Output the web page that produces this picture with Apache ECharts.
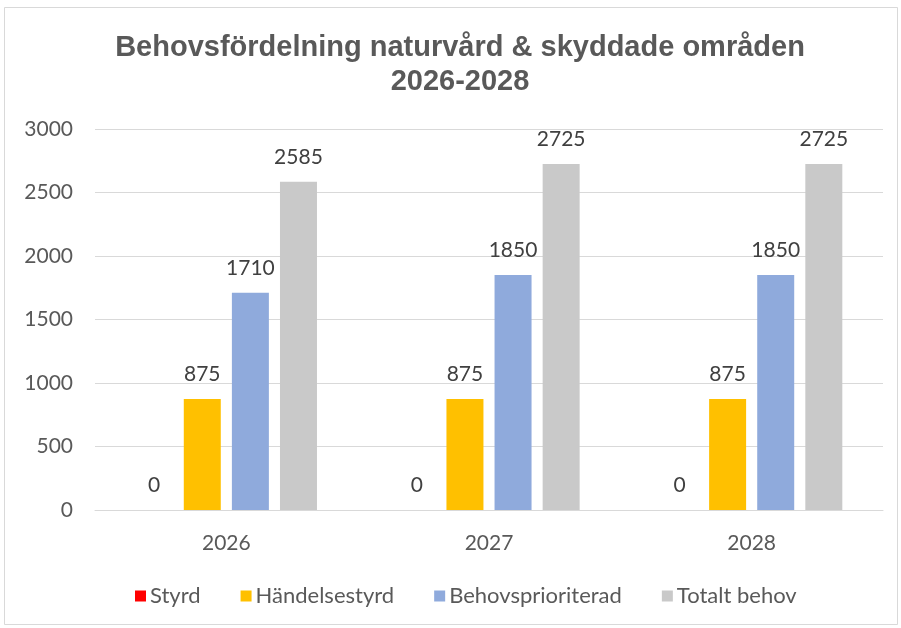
<!DOCTYPE html>
<html>
<head>
<meta charset="utf-8">
<script src="https://cdn.jsdelivr.net/npm/echarts@6/dist/echarts.min.js"></script>
<style>
html,body{margin:0;padding:0;background:#fff;}
#chart{width:901px;height:628px;}
</style>
</head>
<body>
<div id="chart"></div>
<script>
const titleText = 'Behovsfördelning naturvård & skyddade områden\n2026-2028';
const categories = ['2026', '2027', '2028'];
const seriesNames = ['Styrd', 'Händelsestyrd', 'Behovsprioriterad', 'Totalt behov'];
const styrd = [0, 0, 0];
const handelsestyrd = [875, 875, 875];
const behovsprioriterad = [1710, 1850, 1850];
const totaltBehov = [2585, 2725, 2725];
const yTicks = { min: 0, max: 3000, interval: 500 };
const colors = ['#FF0000', '#FFC000', '#8FAADC', '#C9C9C9'];

const values = [styrd, handelsestyrd, behovsprioriterad, totaltBehov];
const labelFont = 'Lato, "Open Sans", sans-serif';

const chart = echarts.init(document.getElementById('chart'), null, { renderer: 'canvas' });
chart.setOption({
  animation: false,
  backgroundColor: '#ffffff',
  color: colors,
  graphic: [{
    type: 'rect',
    shape: { x: 4.5, y: 7.5, width: 893, height: 617 },
    style: { fill: 'none', stroke: '#d9d9d9', lineWidth: 1 },
    silent: true,
    z: -1
  }],
  title: {
    text: titleText,
    left: 460,
    top: 31,
    padding: 0,
    textAlign: 'center',
    textStyle: {
      fontFamily: '"Liberation Sans", Arial, sans-serif',
      fontWeight: 'bold',
      fontSize: 29,
      lineHeight: 34,
      color: '#595959'
    }
  },
  legend: {
    data: seriesNames,
    left: 135,
    top: 585,
    padding: 0,
    itemWidth: 11,
    itemHeight: 11,
    itemGap: 40,
    icon: 'rect',
    textStyle: { fontFamily: labelFont, fontSize: 22, color: '#595959', padding: [0, 0, 0, -1] }
  },
  grid: { left: 95, right: 18, top: 129, bottom: 118, containLabel: false },
  xAxis: {
    type: 'category',
    data: categories,
    axisLine: { show: true, lineStyle: { color: '#d9d9d9', width: 1 } },
    axisTick: { show: false },
    axisLabel: { fontFamily: labelFont, fontSize: 21, color: '#595959', margin: 23 }
  },
  yAxis: {
    type: 'value',
    min: yTicks.min,
    max: yTicks.max,
    interval: yTicks.interval,
    axisLine: { show: false },
    axisTick: { show: false },
    splitLine: { lineStyle: { color: '#d9d9d9', width: 1 } },
    axisLabel: {
      fontFamily: labelFont, fontSize: 21, color: '#595959', margin: 22,
      formatter: v => String(v)
    }
  },
  series: seriesNames.map((name, i) => ({
    name: name,
    type: 'bar',
    data: values[i],
    barWidth: 37,
    barGap: '30%',
    itemStyle: { color: colors[i] },
    label: {
      show: true,
      position: 'top',
      distance: 14,
      fontFamily: labelFont,
      fontSize: 21,
      color: '#404040'
    }
  }))
});
</script>
</body>
</html>
